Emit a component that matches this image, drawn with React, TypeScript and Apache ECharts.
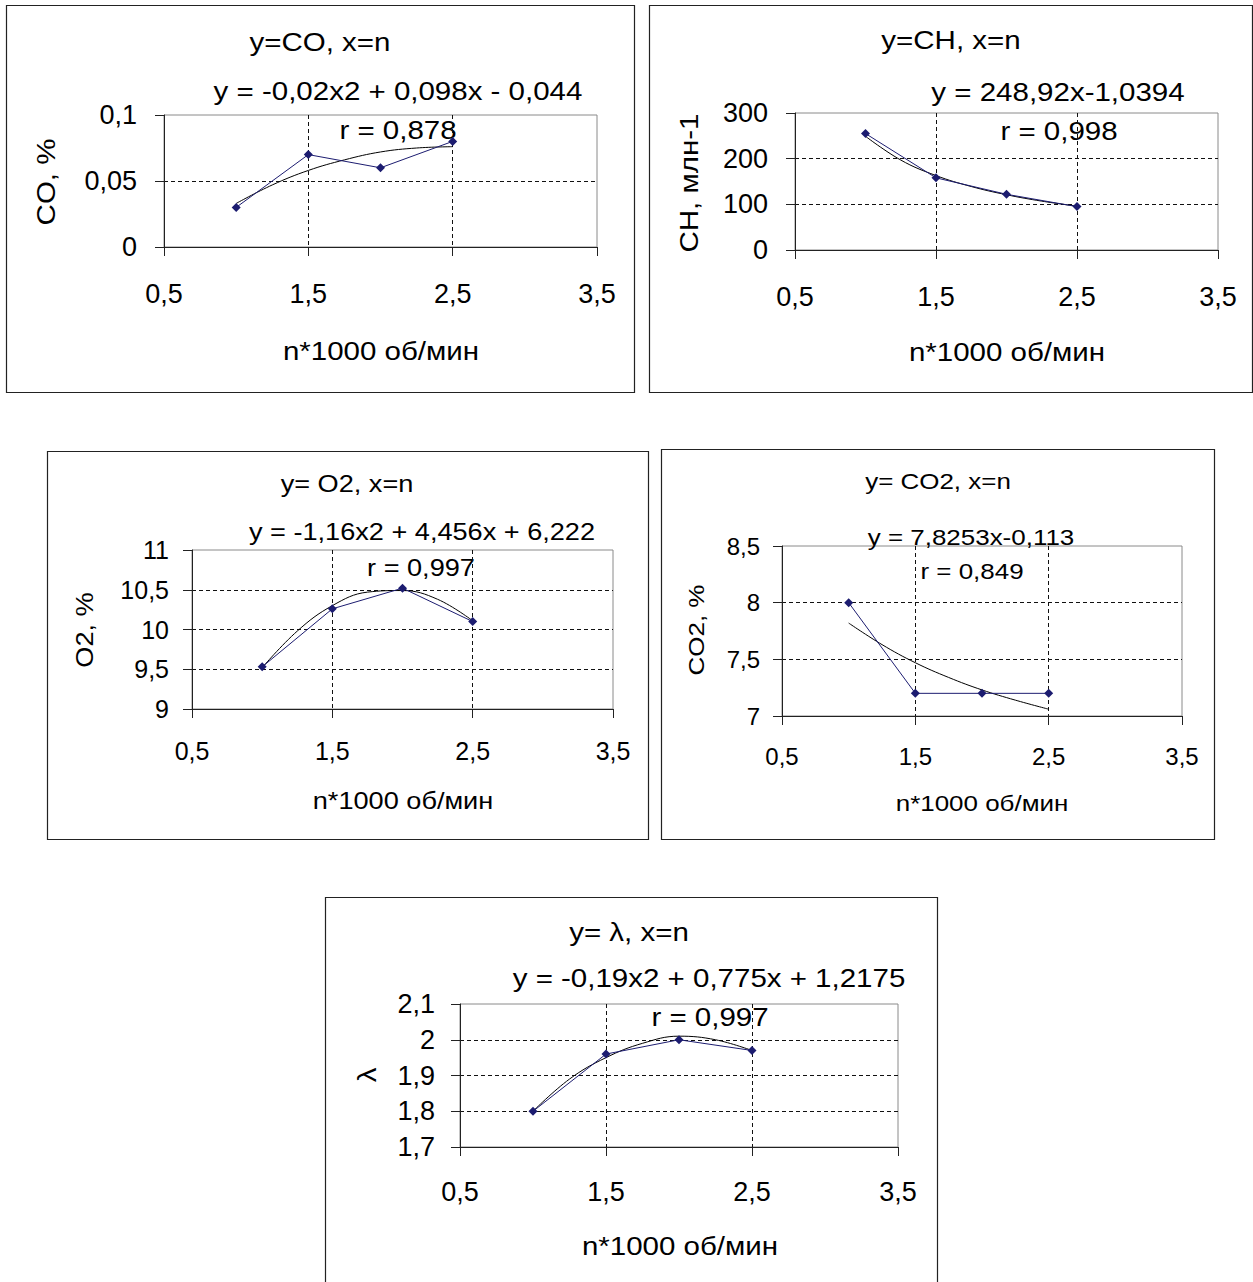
import React, { useEffect, useRef } from "react";
import * as echarts from "echarts";

// Engine speed n (x1000 rpm) at the measured points
const N_VALUES = [1, 1.5, 2, 2.5];
const TREND_N = [1, 1.25, 1.5, 1.75, 2, 2.25, 2.5];

// Measured values
const CO_VALUES = [0.03, 0.07, 0.06, 0.08];
const CH_VALUES = [255, 158, 122, 95];
const O2_VALUES = [9.53, 10.26, 10.52, 10.1];
const CO2_VALUES = [8.0, 7.2, 7.2, 7.2];
const LAMBDA_VALUES = [1.8, 1.96, 2.0, 1.97];

// Trend lines
const CO_TREND = [0.033, 0.047, 0.058, 0.066, 0.072, 0.075, 0.076];
const CH_TREND = [249, 197, 163, 139, 121, 107, 96];
const O2_TREND = [9.52, 9.98, 10.3, 10.47, 10.49, 10.38, 10.11];
const CO2_TREND = [7.82, 7.63, 7.47, 7.34, 7.23, 7.14, 7.06];
const LAMBDA_TREND = [1.8, 1.89, 1.95, 1.99, 2.01, 2.0, 1.97];

// Axis ranges: [min, max, interval]
const X_RANGE = [0.5, 3.5, 1];
const Y_RANGES = [
  [0, 0.1, 0.05],
  [0, 300, 100],
  [9, 11, 0.5],
  [7, 8.5, 0.5],
  [1.7, 2.1, 0.1],
];

const TITLES = ["y=CO, x=n", "y=CH, x=n", "y= O2, x=n", "y= CO2, x=n", "y= λ, x=n"];
const EQUATIONS = [
  "y = -0,02x2 + 0,098x - 0,044",
  "y = 248,92x-1,0394",
  "y = -1,16x2 + 4,456x + 6,222",
  "y = 7,8253x-0,113",
  "y = -0,19x2 + 0,775x + 1,2175",
];
const R_LABELS = ["r = 0,878", "r = 0,998", "r = 0,997", "r = 0,849", "r = 0,997"];
const Y_NAMES = ["CO, %", "CH, млн-1", "O2, %", "CO2, %", "λ"];
const X_NAME = "n*1000 об/мин";

const VALUES = [CO_VALUES, CH_VALUES, O2_VALUES, CO2_VALUES, LAMBDA_VALUES];
const TRENDS = [CO_TREND, CH_TREND, O2_TREND, CO2_TREND, LAMBDA_TREND];

// Layout (pixels)
const LAYOUT = [
  { box: [6, 5, 628, 387], grid: [164, 115, 433, 132], fs: 25, lblFs: 27, xMargin: 33, yMargin: 27,
    title: [320, 42], eq: [398, 91], r: [398, 130], xName: [381, 351], yName: [46, 182] },
  { box: [649, 5, 603, 387], grid: [795, 113, 423, 137], fs: 25, lblFs: 27, xMargin: 33, yMargin: 27,
    title: [951, 40], eq: [1058, 92], r: [1059, 131], xName: [1007, 352], yName: [689, 183] },
  { box: [47, 451, 601, 388], grid: [192, 550, 421, 159], fs: 23, lblFs: 25, xMargin: 29, yMargin: 23,
    title: [347, 484], eq: [422, 532], r: [421, 568], xName: [403, 801], yName: [85, 630] },
  { box: [661, 449, 553, 390], grid: [782, 546, 400, 170], fs: 22, lblFs: 24, xMargin: 28, yMargin: 22,
    title: [938, 481], eq: [971, 537], r: [972, 571], xName: [982, 803], yName: [696, 630] },
  { box: [325, 897, 612, 400], grid: [460, 1004, 438, 143], fs: 25, lblFs: 27, xMargin: 31, yMargin: 25,
    title: [629, 932], eq: [709, 978], r: [710, 1017], xName: [680, 1246], yName: [367, 1075] },
];

const FONT = "'Liberation Sans', Arial, Helvetica, sans-serif";
const SCALE_X = 1.18;

const fmt = (v: number) => String(parseFloat(Number(v).toFixed(4))).replace(".", ",");

function textEl(text: string, x: number, y: number, fs: number, rotation = 0) {
  return {
    type: "text",
    x,
    y,
    rotation,
    scaleX: SCALE_X,
    silent: true,
    style: {
      text,
      fontSize: fs,
      fontFamily: FONT,
      fill: "#000",
      align: "center",
      verticalAlign: "middle",
    },
  };
}

export default function App() {
  const ref = useRef<HTMLDivElement>(null);

  useEffect(() => {
    if (!ref.current) return;
    const chart = echarts.init(ref.current, undefined, { renderer: "svg" });

    const grids: any[] = [];
    const xAxes: any[] = [];
    const yAxes: any[] = [];
    const series: any[] = [];
    const graphics: any[] = [];

    LAYOUT.forEach((l, i) => {
      grids.push({
        left: l.grid[0],
        top: l.grid[1],
        width: l.grid[2],
        height: l.grid[3],
        show: true,
        borderColor: "#8a8a8a",
        borderWidth: 1,
        backgroundColor: "transparent",
        containLabel: false,
      });
      const axisCommon = {
        axisLine: { show: true, onZero: false, lineStyle: { color: "#222", width: 1 } },
        axisTick: { show: true, length: 9, inside: false, lineStyle: { color: "#222", width: 1 } },
        splitLine: {
          show: true,
          showMinLine: false,
          showMaxLine: false,
          lineStyle: { color: "#111", width: 1, type: [4, 3] },
        },
      };
      xAxes.push({
        type: "value",
        gridIndex: i,
        min: X_RANGE[0],
        max: X_RANGE[1],
        interval: X_RANGE[2],
        ...axisCommon,
        axisLabel: {
          fontSize: l.lblFs,
          fontFamily: FONT,
          color: "#000",
          margin: l.xMargin,
          formatter: fmt,
          showMinLabel: true,
          showMaxLabel: true,
        },
      });
      yAxes.push({
        type: "value",
        gridIndex: i,
        min: Y_RANGES[i][0],
        max: Y_RANGES[i][1],
        interval: Y_RANGES[i][2],
        ...axisCommon,
        axisLabel: {
          fontSize: l.lblFs,
          fontFamily: FONT,
          color: "#000",
          margin: l.yMargin,
          formatter: fmt,
          showMinLabel: true,
          showMaxLabel: true,
        },
      });
      series.push({
        type: "line",
        xAxisIndex: i,
        yAxisIndex: i,
        data: N_VALUES.map((x, j) => [x, VALUES[i][j]]),
        symbol: "diamond",
        symbolSize: 9,
        lineStyle: { color: "#1c1c70", width: 1 },
        itemStyle: { color: "#1c1c70" },
        z: 3,
        silent: true,
      });
      series.push({
        type: "line",
        xAxisIndex: i,
        yAxisIndex: i,
        data: TREND_N.map((x, j) => [x, TRENDS[i][j]]),
        smooth: 0.4,
        showSymbol: false,
        symbol: "none",
        lineStyle: { color: "#000", width: 1 },
        z: 2,
        silent: true,
      });

      graphics.push({
        type: "rect",
        silent: true,
        shape: { x: l.box[0] + 0.5, y: l.box[1] + 0.5, width: l.box[2], height: l.box[3] },
        style: { fill: "none", stroke: "#222", lineWidth: 1.2 },
      });
      graphics.push(textEl(TITLES[i], l.title[0], l.title[1], l.fs));
      graphics.push(textEl(EQUATIONS[i], l.eq[0], l.eq[1], l.fs));
      graphics.push(textEl(R_LABELS[i], l.r[0], l.r[1], l.fs));
      graphics.push(textEl(X_NAME, l.xName[0], l.xName[1], l.fs));
      graphics.push(textEl(Y_NAMES[i], l.yName[0], l.yName[1], l.fs, Math.PI / 2));
    });

    chart.setOption({
      animation: false,
      backgroundColor: "#fff",
      grid: grids,
      xAxis: xAxes,
      yAxis: yAxes,
      series,
      graphic: { elements: graphics },
    });

    return () => chart.dispose();
  }, []);

  return (
    <div
      ref={ref}
      style={{ position: "absolute", left: 0, top: 0, width: 1253, height: 1282 }}
    />
  );
}
